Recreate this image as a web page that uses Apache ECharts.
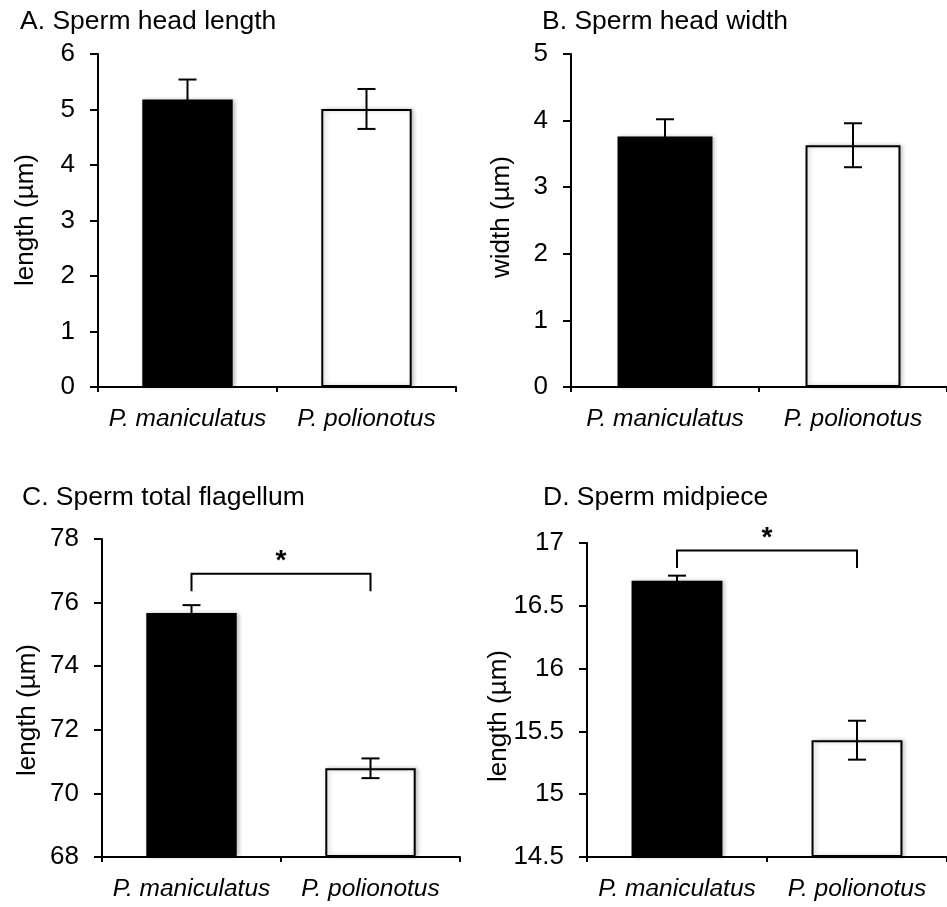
<!DOCTYPE html>
<html>
<head>
<meta charset="utf-8">
<title>Sperm morphology</title>
<script src="https://cdn.jsdelivr.net/npm/echarts@6/dist/echarts.min.js"></script>
<style>
  html, body { margin: 0; padding: 0; background: #fff; }
  #chart { width: 947px; height: 907px; }
</style>
</head>
<body>
<div id="chart"></div>
<script>
// Species compared in every panel
const species = ['P. maniculatus', 'P. polionotus'];

// Means and error (± half-length of error bar), µm
const headLength = [5.18, 5.01];
const headLengthErr = [0.36, 0.36];
const headWidth = [3.76, 3.63];
const headWidthErr = [0.26, 0.33];
const flagellum = [75.67, 70.79];
const flagellumErr = [0.25, 0.31];
const midpiece = [16.70, 15.43];
const midpieceErr = [0.04, 0.155];

// Value-axis ranges [min, max, interval]
const headLengthAxis = [0, 6, 1];
const headWidthAxis = [0, 5, 1];
const flagellumAxis = [68, 78, 2];
const midpieceAxis = [14.5, 17, 0.5];

// Significance brackets [bottom of legs, top line]
const flagellumBracket = [76.36, 76.91];
const midpieceBracket = [16.80, 16.94];

const FONT = "'Liberation Sans', Arial, Helvetica, sans-serif";
const LINE_W = 2;
const barColors = ['#000000', '#ffffff'];

const panels = [
  { title: 'A. Sperm head length', yName: 'length (µm)', values: headLength, err: headLengthErr, axis: headLengthAxis,
    grid: { left: 98, top: 54, width: 358, height: 333 }, titlePos: [20, 8], namePos: [26, 220] },
  { title: 'B. Sperm head width', yName: 'width (µm)', values: headWidth, err: headWidthErr, axis: headWidthAxis,
    grid: { left: 571, top: 54, width: 384, height: 333 }, titlePos: [542, 8], namePos: [502, 217] },
  { title: 'C. Sperm total flagellum', yName: 'length (µm)', values: flagellum, err: flagellumErr, axis: flagellumAxis,
    grid: { left: 102, top: 539, width: 358, height: 318 }, titlePos: [22, 484], namePos: [28, 710], bracket: flagellumBracket },
  { title: 'D. Sperm midpiece', yName: 'length (µm)', values: midpiece, err: midpieceErr, axis: midpieceAxis,
    grid: { left: 587, top: 543, width: 368, height: 314 }, titlePos: [543, 484], namePos: [499, 716], bracket: midpieceBracket }
];

function errorBarRenderer(params, api) {
  const x = api.value(0);
  const lo = api.coord([x, api.value(1)]);
  const hi = api.coord([x, api.value(2)]);
  const half = 9;
  const style = { stroke: '#000', lineWidth: LINE_W, fill: null };
  return {
    type: 'group',
    children: [
      { type: 'line', shape: { x1: lo[0], y1: lo[1], x2: hi[0], y2: hi[1] }, style },
      { type: 'line', shape: { x1: hi[0] - half, y1: hi[1], x2: hi[0] + half, y2: hi[1] }, style },
      { type: 'line', shape: { x1: lo[0] - half, y1: lo[1], x2: lo[0] + half, y2: lo[1] }, style }
    ]
  };
}

function bracketRenderer(params, api) {
  const bottom = api.value(1);
  const top = api.value(2);
  const a0 = api.coord([0, bottom]);
  const a1 = api.coord([0, top]);
  const b1 = api.coord([1, top]);
  const b0 = api.coord([1, bottom]);
  return {
    type: 'group',
    children: [
      { type: 'polyline', shape: { points: [a0, a1, b1, b0] },
        style: { stroke: '#000', lineWidth: LINE_W, fill: null } },
      { type: 'text', style: { text: '*', x: (a1[0] + b1[0]) / 2, y: a1[1] - 12,
        font: 'bold 28px ' + FONT, fill: '#000', align: 'center', verticalAlign: 'middle',
        textAlign: 'center', textVerticalAlign: 'middle' } }
    ]
  };
}

const option = {
  backgroundColor: '#fff',
  animation: false,
  title: panels.map(p => ({
    text: p.title, left: p.titlePos[0], top: p.titlePos[1], padding: 0,
    textStyle: { fontFamily: FONT, fontSize: 26.5, fontWeight: 'normal', color: '#000' }
  })),
  graphic: panels.map(p => ({
    type: 'text', x: p.namePos[0], y: p.namePos[1], rotation: Math.PI / 2,
    style: { text: p.yName, font: '26px ' + FONT, fill: '#000',
      align: 'center', verticalAlign: 'middle', textAlign: 'center', textVerticalAlign: 'middle' }
  })),
  grid: panels.map(p => Object.assign({ containLabel: false }, p.grid)),
  xAxis: panels.map((p, i) => ({
    type: 'category', gridIndex: i, data: species, boundaryGap: true,
    axisLine: { show: true, lineStyle: { color: '#000', width: LINE_W } },
    axisTick: { show: true, length: 5, lineStyle: { color: '#000', width: LINE_W } },
    axisLabel: { interval: 0, margin: 20, color: '#000', fontFamily: FONT, fontSize: 24.5, fontStyle: 'italic' },
    splitLine: { show: false }
  })),
  yAxis: panels.map((p, i) => ({
    type: 'value', gridIndex: i, min: p.axis[0], max: p.axis[1], interval: p.axis[2], startValue: p.axis[0],
    axisLine: { show: true, lineStyle: { color: '#000', width: LINE_W } },
    axisTick: { show: true, length: 8, lineStyle: { color: '#000', width: LINE_W } },
    axisLabel: { margin: 23, color: '#000', fontFamily: FONT, fontSize: 26 },
    splitLine: { show: false }
  })),
  series: []
};

panels.forEach((p, i) => {
  option.series.push({
    type: 'bar', xAxisIndex: i, yAxisIndex: i, barWidth: '50.5%',
    data: p.values.map((v, k) => ({
      value: v,
      itemStyle: { color: barColors[k], borderColor: '#000', borderWidth: LINE_W,
        shadowColor: 'rgba(0,0,0,0.22)', shadowBlur: 4, shadowOffsetX: 2 }
    })),
    z: 2
  });
  option.series.push({
    type: 'custom', xAxisIndex: i, yAxisIndex: i, renderItem: errorBarRenderer,
    encode: { x: 0, y: [1, 2] },
    data: p.values.map((v, k) => [k, v - p.err[k], v + p.err[k]]),
    z: 5
  });
  if (p.bracket) {
    option.series.push({
      type: 'custom', xAxisIndex: i, yAxisIndex: i, renderItem: bracketRenderer,
      encode: { x: 0, y: [1, 2] }, clip: false,
      data: [[0, p.bracket[0], p.bracket[1]]],
      z: 5
    });
  }
});

const chart = echarts.init(document.getElementById('chart'));
chart.setOption(option);
</script>
</body>
</html>
